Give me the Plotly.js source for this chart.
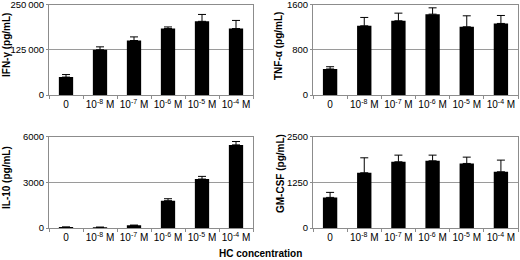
<!DOCTYPE html>
<html>
<head>
<meta charset="utf-8">
<script src="https://cdn.plot.ly/plotly-3.0.1.min.js"></script>
<style>html,body{margin:0;padding:0;background:#fff;}#chart{width:520px;height:260px;}</style>
</head>
<body>
<div id="chart"></div>
<script>
const categories = ["0", "10<sup>-8</sup> M", "10<sup>-7</sup> M", "10<sup>-6</sup> M", "10<sup>-5</sup> M", "10<sup>-4</sup> M"];
const ifnValues = [49500, 125000, 150500, 183500, 203500, 183500];
const ifnErrors = [7000, 8000, 10000, 4500, 19000, 22500];
const tnfValues = [460, 1223, 1312, 1429, 1206, 1265];
const tnfErrors = [40, 148, 135, 112, 194, 141];
const il10Values = [60, 50, 180, 1790, 3210, 5450];
const il10Errors = [0, 0, 0, 130, 175, 220];
const gmcsfValues = [836, 1509, 1809, 1836, 1764, 1536];
const gmcsfErrors = [137, 409, 182, 155, 172, 319];
const yTitles = ["IFN-γ (pg/mL)", "TNF-α (pg/mL)", "IL-10 (pg/mL)", "GM-CSF (pg/mL)"];
const yMax = [250000, 1600, 6000, 2500];
const yTickText = [["0", "125\u2009000", "250\u2009000"], ["0", "800", "1600"], ["0", "3000", "6000"], ["0", "1250", "2500"]];
const xTitle = "HC concentration";

const series = [[ifnValues, ifnErrors], [tnfValues, tnfErrors], [il10Values, il10Errors], [gmcsfValues, gmcsfErrors]];
const axisGray = "#8c8c8c";
const font = {family: "Liberation Sans, Arial, sans-serif", color: "#000"};

const traces = series.map((s, i) => ({
  type: "bar",
  x: categories,
  y: s[0],
  xaxis: i === 0 ? "x" : "x" + (i + 1),
  yaxis: i === 0 ? "y" : "y" + (i + 1),
  marker: {color: "#000", line: {width: 0}},
  error_y: {type: "data", array: s[1], symmetric: false, arrayminus: s[1].map(() => 0), color: "#000", thickness: 1, width: 4},
  hoverinfo: "none",
  showlegend: false
}));

const xDomL = [49 / 520, 253 / 520];
const xDomR = [313 / 520, 518 / 520];
const yDomT = [1 - 95 / 260, 1 - 4.5 / 260];
const yDomB = [1 - 228 / 260, 1 - 136.5 / 260];
const domains = [[xDomL, yDomT], [xDomR, yDomT], [xDomL, yDomB], [xDomR, yDomB]];
// y-title centre positions (px) for each panel
const titlePos = [[6, 45], [278, 46], [6, 178], [280, 174]];

const layout = {
  width: 520, height: 260,
  margin: {l: 0, r: 0, t: 0, b: 0},
  paper_bgcolor: "#fff", plot_bgcolor: "#fff",
  bargap: 0.58,
  font: Object.assign({size: 10}, font),
  annotations: [{
    text: "<b>" + xTitle + "</b>", xref: "paper", yref: "paper",
    x: 0.5, y: 1 - 253 / 260, xanchor: "center", yanchor: "middle",
    showarrow: false, font: Object.assign({size: 10}, font)
  }]
};

domains.forEach((d, i) => {
  const xk = i === 0 ? "xaxis" : "xaxis" + (i + 1);
  const yk = i === 0 ? "yaxis" : "yaxis" + (i + 1);
  const ya = i === 0 ? "y" : "y" + (i + 1);
  const xa = i === 0 ? "x" : "x" + (i + 1);
  layout[xk] = {
    domain: d[0], anchor: ya, type: "category",
    showline: true, linecolor: axisGray, linewidth: 1, mirror: true,
    ticks: "outside", tickson: "boundaries", ticklen: 3, tickcolor: axisGray,
    showgrid: false, zeroline: false, fixedrange: true, tickangle: 0, automargin: false,
    ticklabeloverflow: "allow",
    tickfont: Object.assign({size: 10}, font)
  };
  layout[yk] = {
    domain: d[1], anchor: xa, range: [0, yMax[i]],
    tickmode: "array", tickvals: [0, yMax[i] / 2, yMax[i]], ticktext: yTickText[i],
    showline: true, linecolor: axisGray, linewidth: 1, mirror: true,
    ticks: "outside", ticklen: 2, tickcolor: axisGray, automargin: false,
    ticklabeloverflow: "allow",
    showgrid: true, gridcolor: "#9a9a9a", gridwidth: 1, zeroline: false, fixedrange: true,
    tickfont: Object.assign({size: 9.5}, font)
  };
  layout.annotations.push({
    text: "<b>" + yTitles[i] + "</b>", xref: "paper", yref: "paper",
    x: titlePos[i][0] / 520, y: 1 - titlePos[i][1] / 260,
    xanchor: "center", yanchor: "middle", textangle: -90,
    showarrow: false, font: Object.assign({size: 10}, font)
  });
});

Plotly.newPlot("chart", traces, layout, {staticPlot: true, displayModeBar: false});
</script>
</body>
</html>
